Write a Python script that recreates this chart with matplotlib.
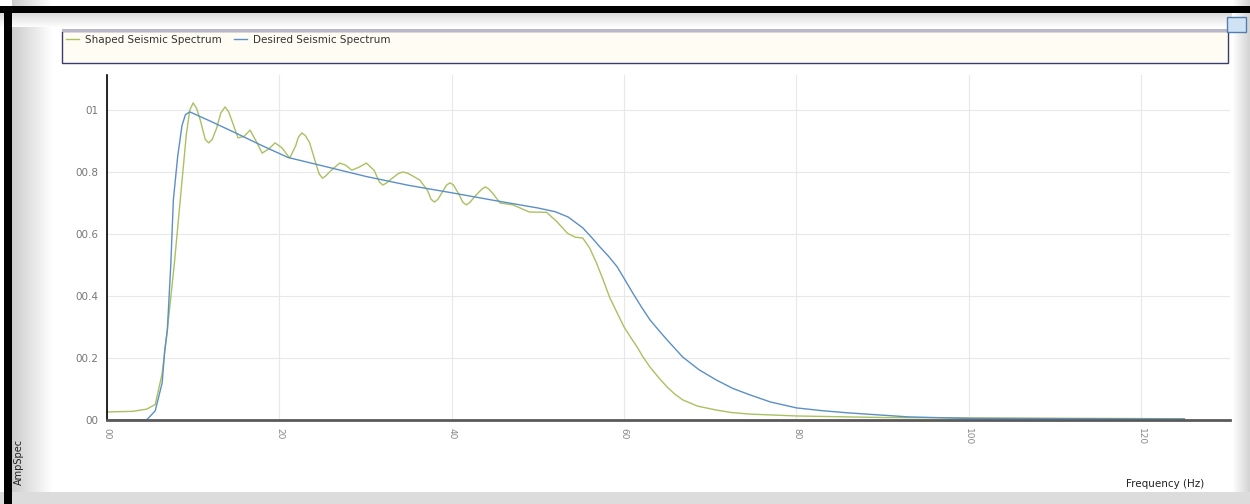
import matplotlib
matplotlib.use("Agg")
import matplotlib.pyplot as plt
from matplotlib.patches import Rectangle

shaped_freq = [0, 3, 4.6, 5.6, 6.4, 7.0, 7.8, 8.5, 9.2, 9.6, 10.0, 10.4, 10.8, 11.4, 11.8,
               12.2, 12.7, 13.2, 13.7, 14.1, 14.5, 15.2, 15.9, 16.6, 17.3, 18.0, 18.8,
               19.5, 20.3, 21.2, 21.9, 22.2, 22.6, 23.0, 23.5, 24.1, 24.6, 25.0, 25.4,
               26.0, 27.0, 27.7, 28.4, 29.2, 30.1, 31.0, 31.6, 32.0, 32.4, 33.0, 33.8,
               34.3, 34.8, 35.3, 36.3, 37.2, 37.6, 38.0, 38.4, 38.9, 39.4, 39.8, 40.2,
               40.8, 41.3, 41.7, 42.1, 42.8, 43.5, 43.9, 44.3, 44.8, 45.6, 47.1, 49.0,
               51.0, 52.2, 53.4, 54.3, 55.2, 56.0, 56.8, 57.6, 58.3, 59.2, 60.0, 60.8,
               61.5, 62.2, 63.0, 64.0, 65.0, 65.9, 66.8, 68.5, 70.7, 72.5, 74.6, 80.0,
               90.0, 125.0]
shaped_amp = [0.0026, 0.0028, 0.0035, 0.0050, 0.0150, 0.0290, 0.0500, 0.0710, 0.0920,
              0.1000, 0.1023, 0.1005, 0.0970, 0.0905, 0.0894, 0.0905, 0.0940, 0.0990,
              0.1010, 0.0995, 0.0965, 0.0910, 0.0915, 0.0935, 0.0900, 0.0861, 0.0875,
              0.0894, 0.0878, 0.0845, 0.0885, 0.0912, 0.0926, 0.0918, 0.0895, 0.0840,
              0.0795, 0.0780, 0.0788, 0.0805, 0.0829, 0.0822, 0.0806, 0.0815, 0.0829,
              0.0805, 0.0768, 0.0758, 0.0764, 0.0778, 0.0795, 0.0800, 0.0797, 0.0790,
              0.0774, 0.0740, 0.0712, 0.0703, 0.0712, 0.0735, 0.0758, 0.0765, 0.0758,
              0.0730, 0.0702, 0.0694, 0.0702, 0.0725, 0.0745, 0.0752, 0.0745, 0.0730,
              0.0700, 0.0694, 0.0671, 0.0670, 0.0640, 0.0603, 0.0590, 0.0587, 0.0555,
              0.0506, 0.0450, 0.0397, 0.0345, 0.0300, 0.0265, 0.0236, 0.0203, 0.0171,
              0.0137, 0.0106, 0.0083, 0.0065, 0.0045, 0.0032, 0.0024, 0.0019, 0.0013,
              0.0008, 0.0004]

desired_freq = [0, 4.6, 5.6, 6.4, 6.7, 7.0, 7.4, 7.7, 8.2, 8.7, 9.1, 9.6, 12, 15, 18, 21,
                25, 30, 35, 40, 45, 50, 52, 53.5, 55.2, 56.2, 57.2, 58.2, 59.2, 60.1, 61,
                62, 63, 64, 65, 66.8, 68.7, 70.7, 72.6, 74.6, 77, 80, 83, 86, 93, 100, 125]
desired_amp = [0.0, 0.0, 0.0030, 0.0120, 0.0225, 0.0290, 0.0500, 0.0710, 0.0850, 0.0950,
               0.0985, 0.0994, 0.0964, 0.0925, 0.0885, 0.0847, 0.0820, 0.0786, 0.0757,
               0.0733, 0.0708, 0.0684, 0.0672, 0.0655, 0.0620, 0.0590, 0.0558, 0.0528,
               0.0494, 0.0452, 0.0410, 0.0365, 0.0323, 0.0290, 0.0258, 0.0203, 0.0162,
               0.0129, 0.0102, 0.0081, 0.0058, 0.0039, 0.0030, 0.0023, 0.0010, 0.0005,
               0.0003]

x_ticks = [0, 20, 40, 60, 80, 100, 120]
x_tick_labels = ["00", "20", "40", "60", "80", "100", "120"]
y_ticks = [0, 0.02, 0.04, 0.06, 0.08, 0.1]
y_tick_labels = ["00", "00.2", "00.4", "00.6", "00.8", "01"]

W, H = 1250, 504
fig = plt.figure(figsize=(W / 100, H / 100), dpi=100)
fig.patch.set_facecolor("white")

def px_rect(x, y, w, h, **kw):
    # rectangle given in pixel coords (origin top-left)
    r = Rectangle((x / W, 1 - (y + h) / H), w / W, h / H, transform=fig.transFigure, **kw)
    fig.patches.append(r)
    return r

# window frame: soft grey gradients and black border
for i in range(40):
    g = 0.80 + 0.20 * i / 40
    px_rect(12 + i, 0, 1.2, H, facecolor=(g, g, g), edgecolor="none", zorder=0)
for i in range(14):
    g = 0.86 + 0.14 * i / 14
    px_rect(0, 13 + i, W, 1.2, facecolor=(g, g, g), edgecolor="none", zorder=0)
for i in range(18):
    g = 1.0 - 0.18 * i / 18
    px_rect(1232 + i, 0, 1.2, H, facecolor=(g, g, g), edgecolor="none", zorder=0)
px_rect(0, 492, W, 12, facecolor="#dcdcdc", edgecolor="none", zorder=0)
px_rect(0, 6, W, 7, facecolor="black", edgecolor="none", zorder=1)
px_rect(4, 6, 8, H, facecolor="black", edgecolor="none", zorder=1)

# legend box
px_rect(62, 31, 1166, 32, facecolor="#fffdf3", edgecolor="#3b3b6e", linewidth=1.0, zorder=2)
px_rect(62, 29, 1166, 3, facecolor="#b8b8c8", edgecolor="none", zorder=2)
# small icon top-right
px_rect(1227, 17, 19, 15, facecolor="#cfe3f5", edgecolor="#4f7fb0", linewidth=1.0, zorder=3)

ax = fig.add_axes([107 / W, 1 - 420 / H, (1230 - 107) / W, (420 - 75) / H])
ax.set_facecolor("none")
ax.plot(shaped_freq, shaped_amp, color="#a9c160", linewidth=1.0, label="Shaped Seismic Spectrum")
ax.plot(desired_freq, desired_amp, color="#5b8fc6", linewidth=1.0, label="Desired Seismic Spectrum")

ax.set_xlim(0, 130.3)
ax.set_ylim(0, 0.1113)
ax.set_xticks(x_ticks)
ax.set_xticklabels(x_tick_labels, rotation=-90, color="#888888", fontsize=6.5)
ax.set_yticks(y_ticks)
ax.set_yticklabels(y_tick_labels, color="#777777", fontsize=7.5)
ax.tick_params(length=0, pad=6)
ax.grid(True, color="#e8e8e8", linewidth=0.8)
ax.set_axisbelow(True)
for s in ["top", "right"]:
    ax.spines[s].set_visible(False)
ax.spines["left"].set_color("black")
ax.spines["left"].set_linewidth(1.2)
ax.spines["bottom"].set_color("#5a5a5a")
ax.spines["bottom"].set_linewidth(2.0)

fig.legend(loc="upper left", bbox_to_anchor=(64 / W, 1 - 33 / H), ncol=2, frameon=False,
           fontsize=7.5, handlelength=1.2, handletextpad=0.6, columnspacing=1.2,
           borderaxespad=0, borderpad=0.2, labelcolor="#333333")

fig.text(19 / W, 1 - 462 / H, "AmpSpec", rotation=90, ha="center", va="center",
         fontsize=7, color="#222222")
fig.text(1165 / W, 1 - 484 / H, "Frequency (Hz)", ha="center", va="center",
         fontsize=7.5, color="#222222")

fig.savefig("out.png", dpi=100)
